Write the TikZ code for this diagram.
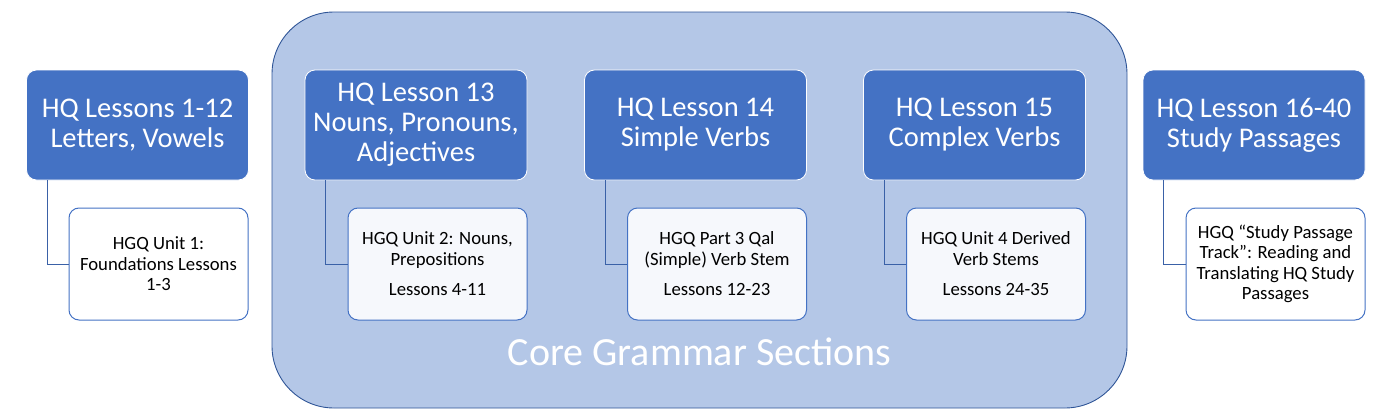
\documentclass[tikz,border=0pt]{standalone}
\usepackage{fontspec}
\setmainfont{Carlito}
\usetikzlibrary{calc}
\usepackage{xcolor}
\definecolor{hqblue}{HTML}{4472C4}
\definecolor{coreblue}{HTML}{B4C7E7}
\definecolor{coreedge}{HTML}{2F5597}
\definecolor{unitfill}{HTML}{F6F8FC}
\tikzset{
	lesson/.style={draw=white, line width=0.8pt, fill=hqblue, rounded corners=10pt,
		minimum width=222pt, minimum height=110pt, inner sep=0pt,
		text=white, align=center, font=\fontsize{28.5}{30}\selectfont},
	unit/.style={draw=hqblue, line width=1pt, fill=white, rounded corners=10pt,
		minimum width=179pt, minimum height=112pt, inner sep=0pt,
		align=center, font=\fontsize{18.7}{20.5}\selectfont},
	link/.style={draw=hqblue!85!black, line width=1pt}
}

\begin{document}
\begin{tikzpicture}[x=1pt, y=-1pt]
		\useasboundingbox (0,0) rectangle (1377,415);

		% Core container
		\node (core) [draw=coreedge, line width=0.9pt, fill=coreblue, rounded corners=62pt,
			minimum width=855pt, minimum height=396pt] at (699.5,210) {};
		\node (corelabel) [anchor=base, text=white, font=\fontsize{40}{44}\selectfont]
			at (699.5,365) {Core Grammar Sections};

		% Lessons
		\node (l1) [lesson] at (137.5,125) {HQ Lessons 1-12\\Letters, Vowels};
		\node (l2) [lesson] at (416,125) {HQ Lesson 13\\Nouns, Pronouns,\\Adjectives};
		\node (l3) [lesson] at (695.5,125) {HQ Lesson 14\\Simple Verbs};
		\node (l4) [lesson] at (974.5,125) {HQ Lesson 15\\Complex Verbs};
		\node (l5) [lesson] at (1254,125) {HQ Lesson 16-40\\Study Passages};

		% Units
		\node (u1) [unit] at (158.5,264) {HGQ Unit 1:\\Foundations Lessons\\1-3};
		\node (u2) [unit, fill=unitfill] at (437.5,264) {HGQ Unit 2: Nouns,\\Prepositions\\[10pt]Lessons 4-11};
		\node (u3) [unit, fill=unitfill] at (717,264) {HGQ Part 3 Qal\\(Simple) Verb Stem\\[10pt]Lessons 12-23};
		\node (u4) [unit, fill=unitfill] at (996,264) {HGQ Unit 4 Derived\\Verb Stems\\[10pt]Lessons 24-35};
		\node (u5) [unit] at (1275.5,264) {HGQ “Study Passage\\Track”: Reading and\\Translating HQ Study\\Passages};

		\foreach \i in {1,...,5}{
			\draw[link] ([xshift=21pt]l\i.south west) |- (u\i.west);
		}
	\end{tikzpicture}
\end{document}
